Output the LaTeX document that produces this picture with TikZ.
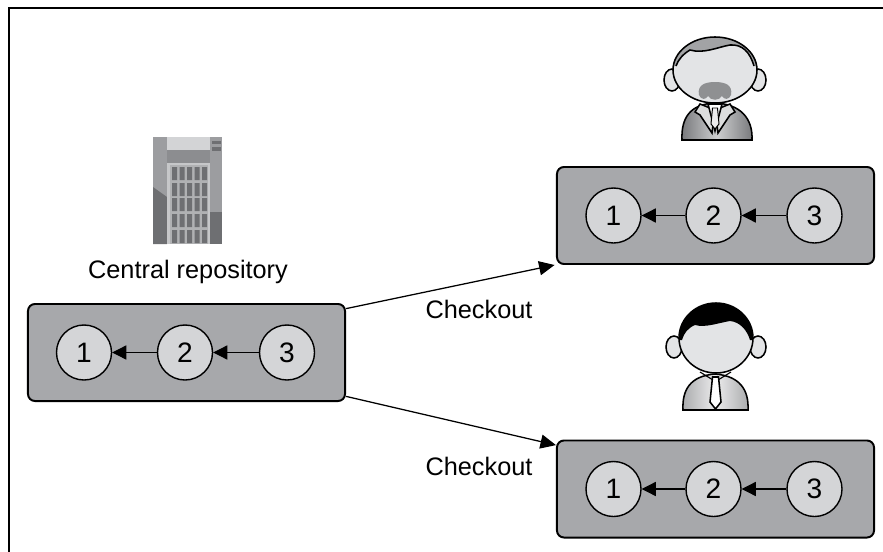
\documentclass[tikz,border=0pt]{standalone}
\usepackage{fontspec}
\setmainfont{Liberation Sans}
\usepackage{xcolor}
\definecolor{colBox}{HTML}{A7A8AB}
\definecolor{colCommit}{HTML}{D4D5D7}
\definecolor{colFace}{HTML}{E3E4E6}
\definecolor{colHair}{HTML}{A2A3A5}
\definecolor{colMoustache}{HTML}{8F9092}
\definecolor{colSuitDark}{HTML}{77787B}
\definecolor{colSuitLight}{HTML}{CDCECF}
\definecolor{colShirtDark}{HTML}{A9AAAC}
\definecolor{colShirtLight}{HTML}{ECECED}
\definecolor{colBldLight}{HTML}{D3D4D6}
\definecolor{colBldMid}{HTML}{9C9DA0}
\definecolor{colBldDark}{HTML}{6E6F72}
\definecolor{colBldGrey}{HTML}{8C8D90}
\definecolor{colBldPale}{HTML}{C6C7C9}
\usepackage{tikz}
\usetikzlibrary{arrows.meta, positioning}

\begin{document}
\begin{tikzpicture}[x=0.025cm, y=-0.025cm,
    repobox/.style={draw, line width=1.4pt, fill=colBox, rounded corners=5pt,
        minimum width=7.925cm, minimum height=2.425cm},
    commit/.style={circle, draw, line width=1pt, fill=colCommit, inner sep=0pt,
        minimum size=1.375cm, font=\fontsize{20}{22}\selectfont},
    parent/.style={-{Triangle[length=10pt, width=10pt]}, line width=0.8pt},
    checkout/.style={-{Triangle[length=11pt, width=10pt]}, line width=0.9pt},
    lbl/.style={font=\fontsize{18}{20}\selectfont},
    outline/.style={draw=black, line width=1.1pt}]
        \useasboundingbox (0,0) rectangle (883,552);

        % === Cornice ===
        \draw[line width=1.6pt] (9,552) -- (9,8) -- (883,8);

        % === Edificio (server centrale) ===
        \fill[colBldMid]   (153,137) rectangle (167,244);
        \fill[colBldDark]  (153,187) -- (167,197) -- (167,244) -- (153,244) -- cycle;
        \fill[colBldLight] (167,137) rectangle (210,150);
        \fill[colBldGrey]  (167,150) rectangle (210,163);
        \fill[colBldPale]  (167,163) rectangle (210,244);
        \fill[colBldMid!80!white] (170,165) rectangle (208,244);
        \fill[colBldMid]   (210,137) rectangle (222,244);
        \fill[colBldDark]  (210,212) rectangle (222,244);
        \fill[colBldDark]  (212,141) rectangle (221,144);
        \fill[colBldDark]  (212,147) rectangle (221,151);
        % finestre
        \fill[colBldDark] (172,167) rectangle (177,180) (179.5,167) rectangle (184.5,180) (187,167) rectangle (192,180) (194.5,167) rectangle (199.5,180) (202,167) rectangle (207,180);
        \fill[colBldDark] (172,183) rectangle (177,196) (179.5,183) rectangle (184.5,196) (187,183) rectangle (192,196) (194.5,183) rectangle (199.5,196) (202,183) rectangle (207,196);
        \fill[colBldDark] (172,198) rectangle (177,211) (179.5,198) rectangle (184.5,211) (187,198) rectangle (192,211) (194.5,198) rectangle (199.5,211) (202,198) rectangle (207,211);
        \fill[colBldDark] (172,214) rectangle (177,227) (179.5,214) rectangle (184.5,227) (187,214) rectangle (192,227) (194.5,214) rectangle (199.5,227) (202,214) rectangle (207,227);
        \fill[colBldDark] (172,230) rectangle (177,243) (179.5,230) rectangle (184.5,243) (187,230) rectangle (192,243) (194.5,230) rectangle (199.5,243) (202,230) rectangle (207,243);
        \node[lbl] (centralLabel) at (188,272) {Central repository};

        % === Repository centrale ===
        \node[repobox] (central) at (186.5,352.5) {};
        \node[commit] (c1) at (84,352.5) {1};
        \node[commit] (c2) at (185,352.5) {2};
        \node[commit] (c3) at (287,352.5) {3};
        \draw[parent] (c2) -- (c1);
        \draw[parent] (c3) -- (c2);

        % === Copia sviluppatore A ===
        \node[repobox] (devA) at (715.5,215.5) {};
        \node[commit] (a1) at (613.5,215.5) {1};
        \node[commit] (a2) at (713.5,215.5) {2};
        \node[commit] (a3) at (814.5,215.5) {3};
        \draw[parent] (a2) -- (a1);
        \draw[parent] (a3) -- (a2);

        % === Copia sviluppatore B ===
        \node[repobox] (devB) at (715.5,489) {};
        \node[commit] (b1) at (613.5,489) {1};
        \node[commit] (b2) at (713.5,489) {2};
        \node[commit] (b3) at (814.5,489) {3};
        \draw[parent] (b2) -- (b1);
        \draw[parent] (b3) -- (b2);

        % Checkout
        \draw[checkout] ([yshift=-4pt]central.north east) -- ([xshift=-1pt]devA.south west);
        \node[lbl] (checkoutA) at (479,309) {Checkout};
        \draw[checkout] ([yshift=4pt]central.south east) -- ([yshift=-4pt]devB.north west);
        \node[lbl] (checkoutB) at (479,466) {Checkout};

        % === Sviluppatore A (baffi) ===
        \shade[left color=colSuitDark, right color=colSuitDark, middle color=colSuitLight]
            (682,140) .. controls (681,118) and (690,104) .. (715,103)
            .. controls (740,104) and (753,118) .. (752,140) -- cycle;
        \draw[line width=1.1pt] (682,140) .. controls (681,118) and (690,104) .. (715,103)
            .. controls (740,104) and (753,118) .. (752,140) -- cycle;
        \fill[colSuitLight!70!white, outline] (700,104) -- (695,112) -- (700,115) -- (712,133) -- (715,110) -- cycle;
        \fill[colSuitLight!70!white, outline] (730,104) -- (735,112) -- (730,115) -- (718,133) -- (715,110) -- cycle;
        \fill[white, outline] (708,104) -- (722,104) -- (715,131) -- cycle;
        \fill[colShirtLight, draw=black, line width=0.7pt] (712.5,108) -- (717.5,108) -- (719,124) -- (715,129) -- (711,124) -- cycle;
        \fill[colFace, outline] (672,80) ellipse [x radius=8, y radius=11];
        \fill[colFace, outline] (758,80) ellipse [x radius=8, y radius=11];
        \fill[colFace] (715,70) ellipse [x radius=42, y radius=33];
        \begin{scope}
            \clip (715,70) ellipse [x radius=42, y radius=33];
            \fill[colHair] (660,30) -- (770,30) -- (770,66) -- (754,66)
                .. controls (750,52) and (742,44) .. (730,45)
                .. controls (718,47) and (704,54) .. (690,50)
                .. controls (683,54) and (678,60) .. (676,66) -- (660,66) -- cycle;
        \end{scope}
        \draw[line width=1.1pt] (676,66) .. controls (678,60) and (683,54) .. (690,50)
            .. controls (704,54) and (718,47) .. (730,45)
            .. controls (742,44) and (750,52) .. (754,66);
        \draw[outline] (715,70) ellipse [x radius=42, y radius=33];
        \fill[colMoustache] (699,95) .. controls (697,85) and (705,82) .. (715,82)
            .. controls (725,82) and (733,85) .. (731,95)
            .. controls (729,100) and (724,100) .. (722,96)
            .. controls (719,101) and (711,101) .. (708,96)
            .. controls (706,100) and (701,100) .. (699,95) -- cycle;

        % === Sviluppatore B (cravatta) ===
        \shade[left color=colShirtDark, right color=colShirtDark, middle color=colShirtLight]
            (683,410) .. controls (682,390) and (690,376) .. (715,374)
            .. controls (740,376) and (749,390) .. (748,410) -- cycle;
        \draw[line width=1.1pt] (683,410) .. controls (682,390) and (690,376) .. (715,374)
            .. controls (740,376) and (749,390) .. (748,410) -- cycle;
        \draw[line width=0.8pt] (700,372) -- (713,380) (731,372) -- (718,380);
        \fill[white, outline] (712.5,377) -- (718.5,377) -- (721,402) -- (715.5,409) -- (710,402) -- cycle;
        \fill[colFace, outline] (674,347) ellipse [x radius=8, y radius=11];
        \fill[colFace, outline] (758,347) ellipse [x radius=8, y radius=11];
        \fill[colFace] (716,338) ellipse [x radius=37, y radius=35];
        \begin{scope}
            \clip (716,338) ellipse [x radius=37, y radius=35];
            \fill[black] (670,295) -- (760,295) -- (760,340) -- (750,340)
                .. controls (747,330) and (740,322) .. (730,321)
                .. controls (718,323) and (705,328) .. (695,325)
                .. controls (688,328) and (684,333) .. (682,340) -- (670,340) -- cycle;
        \end{scope}
        \draw[outline] (716,338) ellipse [x radius=37, y radius=35];
\end{tikzpicture}
\end{document}
